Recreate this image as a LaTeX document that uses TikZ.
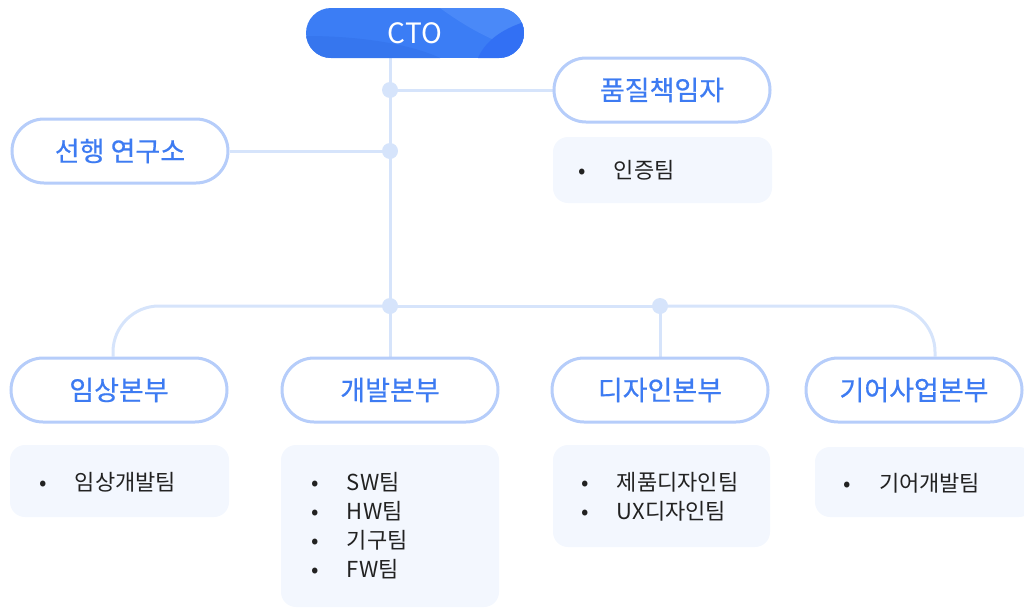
\documentclass[tikz,border=0pt]{standalone}
\usepackage{fontspec}
\setmainfont{Noto Sans CJK KR}
\newfontfamily\medfont[FakeBold=0.6]{Noto Sans CJK KR}
\usetikzlibrary{calc}
\definecolor{linec}{HTML}{D6E4FB}
\definecolor{pillc}{HTML}{B6CDFA}
\definecolor{bluet}{HTML}{3D7BF2}
\definecolor{boxc}{HTML}{F3F7FE}
\definecolor{ctobase}{HTML}{3B7DF5}
\definecolor{ctoleft}{HTML}{3676EE}
\definecolor{ctolight}{HTML}{4A89F8}
\definecolor{ctodark}{HTML}{3270F4}
\definecolor{listc}{HTML}{222222}
\pgfdeclarelayer{bg}
\pgfsetlayers{bg,main}
\begin{document}
\begin{tikzpicture}[x=1pt,y=-1pt,
  pill/.style={draw=pillc, line width=3pt, fill=white, rounded corners=32pt,
    minimum width=216pt, minimum height=64pt, inner sep=0pt,
    text=bluet, font=\medfont\fontsize{27}{32}\selectfont},
  ctostyle/.style={minimum width=218pt, minimum height=50pt, inner sep=0pt,
    text=white, font=\fontsize{28}{32}\selectfont},
  teambox/.style={fill=boxc, rounded corners=15pt, inner sep=0pt},
  teamlist/.style={anchor=west, align=left, inner sep=0pt, text=listc,
    font=\fontsize{22}{29}\selectfont},
  dot/.style={circle, fill=linec, minimum size=16pt, inner sep=0pt},
  conn/.style={draw=linec, line width=3pt}
]
\useasboundingbox (0,0) rectangle (1024,608);
\clip (0,0) rectangle (1024,608);
\newcommand{\bul}{\makebox[20pt][c]{•}\hspace{22pt}}

% CTO background with soft shapes
\begin{scope}
  \clip[rounded corners=25pt] (306,8) rectangle (524,58);
  \fill[ctobase] (306,8) rectangle (524,58);
  \fill[ctoleft] (306,36) .. controls (360,36) and (410,44) .. (440,58) -- (306,58) -- cycle;
  \fill[ctolight] (440,8) .. controls (470,30) and (500,45) .. (524,50) -- (524,8) -- cycle;
  \fill[ctodark] (524,22) .. controls (500,30) and (485,42) .. (478,58) -- (524,58) -- cycle;
\end{scope}
\node[ctostyle] (cto) at (415,33) {CTO};

% first level
\node[pill] (qa) at (662,90) {품질책임자};
\node[pill] (lab) at (120,151) {선행 연구소};

% second level
\node[pill] (clin) at (119,390) {임상본부};
\node[pill] (dev) at (390,390) {개발본부};
\node[pill] (design) at (660,390) {디자인본부};
\node[pill] (gear) at (914,390) {기어사업본부};

% junction dots
\node[dot] (j1) at (390,90) {};
\node[dot] (j2) at (390,151) {};
\node[dot] (j3) at (390,306) {};
\node[dot] (j4) at (660,306) {};

% connectors
\begin{pgfonlayer}{bg}
  \draw[conn] (cto.south -| j1) -- (dev.north);
  \draw[conn] (j1.center) -- (qa.west);
  \draw[conn] (j2.center) -- (lab.east);
  \draw[conn] (j3.center) -- (j4.center);
  \draw[conn] (j4.center) -- (design.north);
  \draw[conn, rounded corners=46pt] (j3.center) -| ($(clin.north)+(-6,0)$);
  \draw[conn, rounded corners=46pt] (j4.center) -| ($(gear.north)+(21,0)$);
\end{pgfonlayer}

% team boxes
\node[teambox, minimum width=219pt, minimum height=66pt] (certbox) at (662.5,170) {};
\node[teamlist] (certlist) at ($(certbox.west)+(19,0)$) {\bul 인증팀};

\node[teambox, minimum width=219pt, minimum height=72pt] (clinbox) at (119.5,481) {};
\node[teamlist] (clinlist) at ($(clinbox.west)+(23,1)$) {\bul 임상개발팀};

\node[teambox, minimum width=218pt, minimum height=162pt] (devbox) at (390,526) {};
\node[teamlist] (devlist) at ($(devbox.west)+(24,0)$) {\bul SW팀\\\bul HW팀\\\bul 기구팀\\\bul FW팀};

\node[teambox, minimum width=217pt, minimum height=102pt] (desbox) at (661.5,496) {};
\node[teamlist] (deslist) at ($(desbox.west)+(22,1)$) {\bul 제품디자인팀\\\bul UX디자인팀};

\node[teambox, minimum width=219pt, minimum height=70pt] (gearbox) at (924.5,482) {};
\node[teamlist] (gearlist) at ($(gearbox.west)+(22,1)$) {\bul 기어개발팀};
\end{tikzpicture}
\end{document}
